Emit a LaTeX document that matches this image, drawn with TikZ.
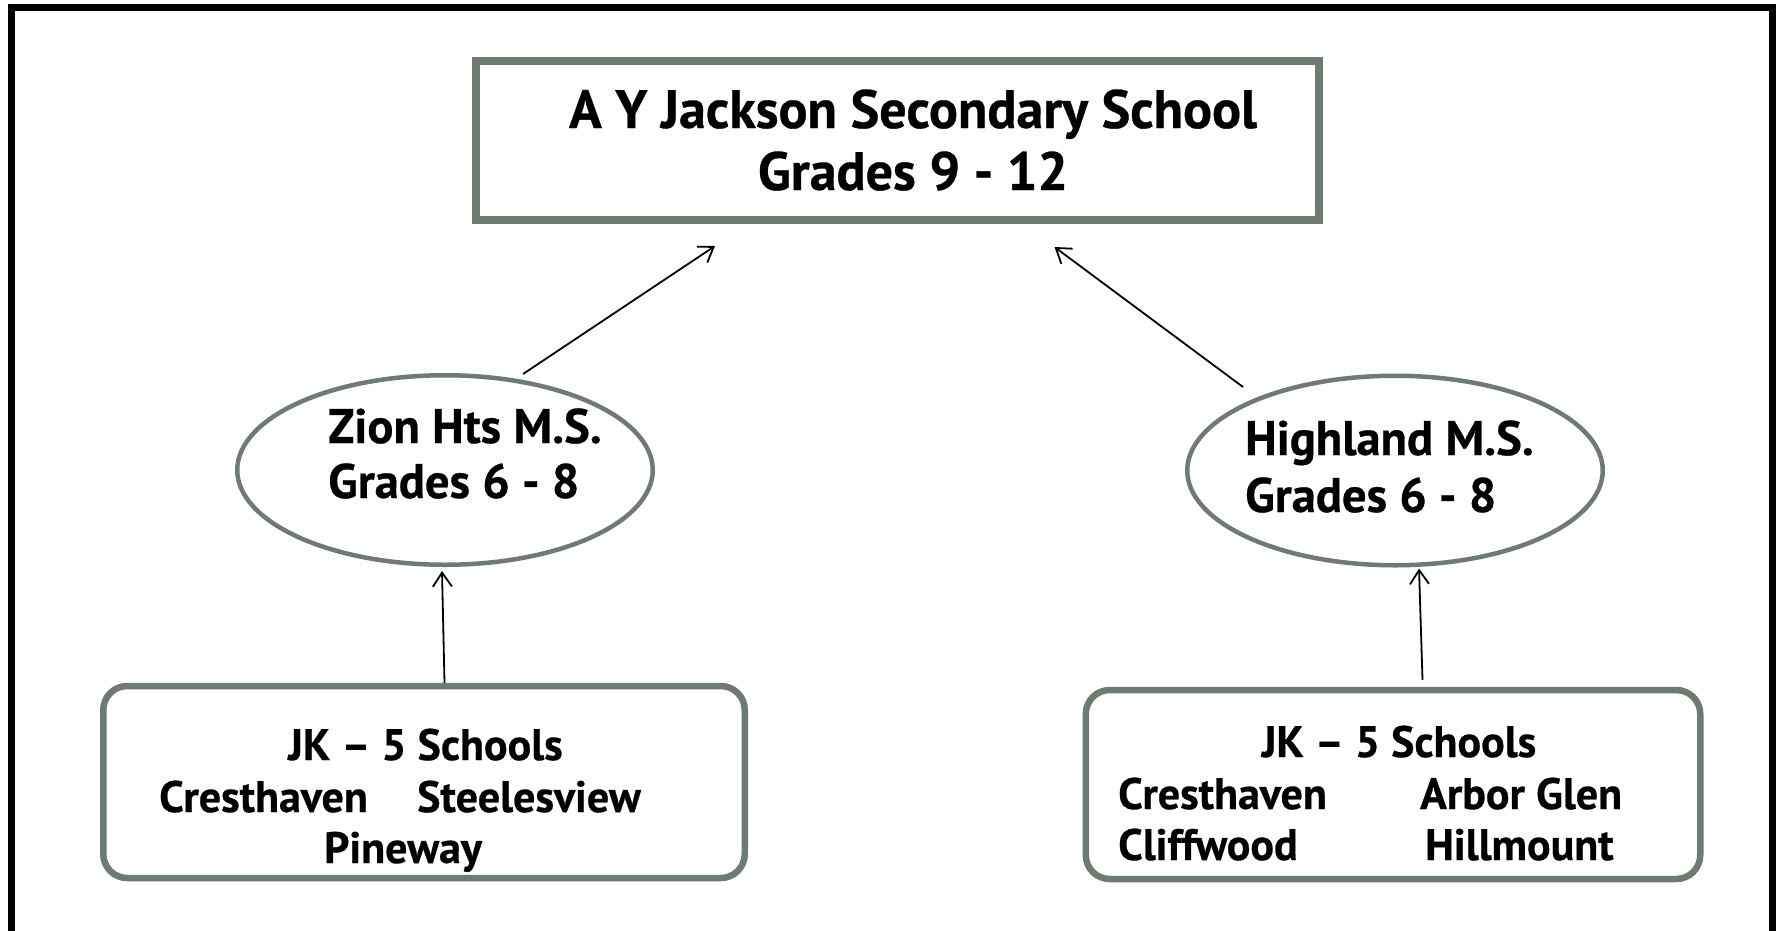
\documentclass[tikz,border=0pt]{standalone}
\usepackage{fontspec}
\setmainfont{PT Sans}[BoldFeatures={FakeBold=0.6}]
\usetikzlibrary{arrows.meta,shapes.geometric,calc}
\definecolor{bgray}{RGB}{111,122,112}
\begin{document}
\begin{tikzpicture}[x=1pt,y=-1pt,
  toptxt/.style={font=\bfseries\fontsize{54}{54}\selectfont, inner sep=0pt},
  midtxt/.style={font=\bfseries\fontsize{48.5}{48.5}\selectfont, inner sep=0pt},
  bottxt/.style={font=\bfseries\fontsize{44}{44}\selectfont, inner sep=0pt},
  ellbox/.style={ellipse, draw=bgray, line width=4.5pt, inner sep=0pt, minimum width=415.5pt, minimum height=189.5pt},
  roundbox/.style={rectangle, draw=bgray, line width=6.5pt, rounded corners=24pt, inner sep=0pt},
  conn/.style={line width=1.8pt, -{Straight Barb[length=14pt,width=19pt,line width=1.8pt]}}]
\useasboundingbox (0,0) rectangle (1776,930);
\fill[white] (0,0) rectangle (1776,930);
\draw[line width=7pt] (11,945) -- (11,7) -- (1772.5,7) -- (1772.5,945);

% boxes
\node[rectangle, draw=bgray, line width=8pt, inner sep=0pt, minimum width=843pt, minimum height=159pt] (top) at (897.5,140.5) {};
\node[ellbox] (zion) at (445,470) {};
\node[ellbox] (highland) at (1395,470.5) {};
\node[roundbox, minimum width=641.5pt, minimum height=192pt] (bl) at (424,782) {};
\node[roundbox, minimum width=614.5pt, minimum height=189pt] (br) at (1393,784.5) {};

% texts
\node[toptxt, anchor=base] (t1) at (913,128) {A Y Jackson Secondary School};
\node[toptxt, anchor=base] (t2) at (913,190) {Grades 9 - 12};
\node[midtxt, anchor=base west] (z1) at (328,443) {Zion Hts M.S.};
\node[midtxt, anchor=base west] (z2) at (328,498) {Grades 6 - 8};
\node[midtxt, anchor=base west] (h1) at (1245,455) {Highland M.S.};
\node[midtxt, anchor=base west] (h2) at (1245,512) {Grades 6 - 8};
\node[bottxt, anchor=base] (bl0) at (425.5,760) {JK – 5 Schools};
\node[bottxt, anchor=base west] (bl1) at (159,812) {Cresthaven};
\node[bottxt, anchor=base west] (bl2) at (417,812) {Steelesview};
\node[bottxt, anchor=base west] (bl3) at (324,863) {Pineway};
\node[bottxt, anchor=base] (br0) at (1399,757) {JK – 5 Schools};
\node[bottxt, anchor=base west] (br1) at (1118,809) {Cresthaven};
\node[bottxt, anchor=base west] (br2) at (1420,809) {Arbor Glen};
\node[bottxt, anchor=base west] (br3) at (1118,860) {Cliffwood};
\node[bottxt, anchor=base west] (br4) at (1425,860) {Hillmount};

% connector ends
\coordinate (zs) at ($(zion.center)+(78,-96)$);
\coordinate (ze) at ($(top.south)+(-182.5,22)$);
\coordinate (hs) at ($(highland.center)+(-152,-83.5)$);
\coordinate (he) at ($(top.south)+(157,23)$);
\coordinate (bls) at ($(bl.north)+(20.5,0)$);
\coordinate (ble) at ($(zion.south)+(-3,4)$);
\coordinate (brs) at ($(br.north)+(29.5,-7)$);
\coordinate (bre) at ($(highland.south)+(24,1)$);

\draw[conn] (zs) -- (ze);
\draw[conn] (hs) -- (he);
\draw[conn] (bls) -- (ble);
\draw[conn] (brs) -- (bre);
\end{tikzpicture}
\end{document}
